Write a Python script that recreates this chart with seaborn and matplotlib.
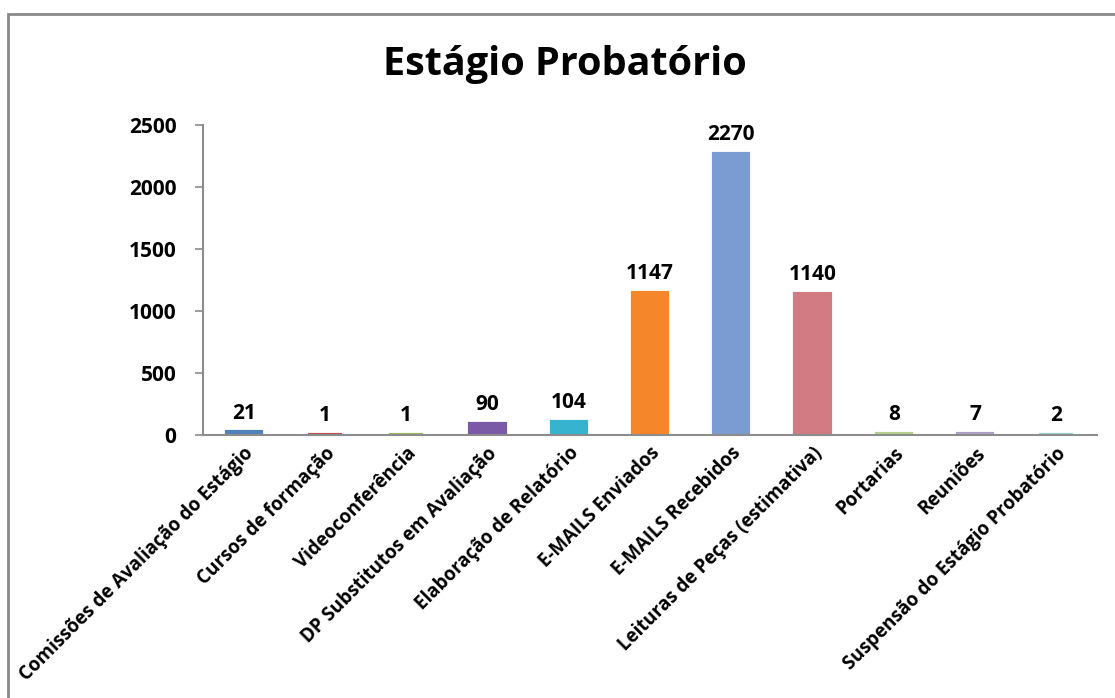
import matplotlib
matplotlib.use("Agg")
import matplotlib.pyplot as plt
import seaborn as sns
import pandas as pd
from matplotlib.patches import Rectangle

# Dados do gráfico
categorias = [
    "Comissões de Avaliação do Estágio",
    "Cursos de formação",
    "Videoconferência",
    "DP Substitutos em Avaliação",
    "Elaboração de Relatório",
    "E-MAILS Enviados",
    "E-MAILS Recebidos",
    "Leituras de Peças (estimativa)",
    "Portarias",
    "Reuniões",
    "Suspensão do Estágio Probatório",
]
valores = [21, 1, 1, 90, 104, 1147, 2270, 1140, 8, 7, 2]
cores = ["#4f81bd", "#c0504d", "#9bbb59", "#7a5aa6", "#35b3cf", "#f5862a",
         "#7b9cd2", "#d27b83", "#b6cd8d", "#ae9ec6", "#9bcfdd"]
yticks = [0, 500, 1000, 1500, 2000, 2500]

df = pd.DataFrame({"categoria": categorias, "valor": valores})

sns.set_style("white")
plt.rcParams["font.family"] = ["Open Sans", "DejaVu Sans"]
plt.rcParams["text.color"] = "black"
plt.rcParams["xtick.color"] = "black"
plt.rcParams["ytick.color"] = "black"

fig = plt.figure(figsize=(11.15, 6.98), dpi=100)
ax = fig.add_axes([203 / 1115, 1 - 435 / 698, (1097 - 203) / 1115, (435 - 125) / 698])

sns.barplot(data=df, x="categoria", y="valor", hue="categoria", palette=cores,
            legend=False, width=0.42, ax=ax, saturation=1)

# contorno para que as barras pequenas fiquem visíveis
for p, c in zip(ax.patches, cores):
    p.set_edgecolor(c)
    p.set_linewidth(3)

for i, v in enumerate(valores):
    ax.text(i, v + 70, str(v), ha="center", va="bottom",
            fontsize=15, fontweight="bold", color="black")

ax.set_ylim(0, 2500)
ax.set_yticks(yticks)
ax.set_yticklabels([str(t) for t in yticks], fontsize=15, fontweight="bold")
ax.set_xlim(-0.5, len(categorias) - 0.5)
ax.set_xticks(range(len(categorias)))
ax.set_xticklabels(categorias, rotation=45, ha="right", rotation_mode="anchor",
                   fontsize=13.5, fontweight="bold")
ax.set_xlabel("")
ax.set_ylabel("")

sns.despine(ax=ax, top=True, right=True)
for s in ["left", "bottom"]:
    ax.spines[s].set_color("#8c8c8c")
    ax.spines[s].set_linewidth(1.5)
ax.tick_params(axis="y", which="major", left=True, length=6, width=1.2,
               color="#8c8c8c", labelcolor="black", pad=13)
ax.tick_params(axis="x", length=0, pad=6, labelcolor="black")

fig.text(565 / 1115, 1 - 64 / 698, "Estágio Probatório", ha="center", va="center",
         fontsize=28.5, fontweight="bold", color="black")

# moldura do gráfico
fig.patches.append(Rectangle((8 / 1115, -0.05), 1.2, 1 - 14 / 698 + 0.05,
                             transform=fig.transFigure, fill=False,
                             edgecolor="#8a8a8a", linewidth=2))

fig.savefig("out.png", dpi=100)
